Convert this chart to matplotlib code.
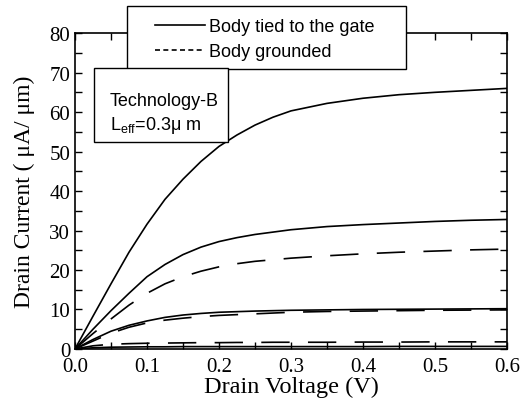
import matplotlib.pyplot as plt
from matplotlib.lines import Line2D
from matplotlib.patches import Rectangle
from matplotlib.ticker import MultipleLocator

# drain voltage samples (V)
vd = [0.0, 0.025, 0.05, 0.075, 0.1, 0.125, 0.15, 0.175, 0.2, 0.225, 0.25,
      0.275, 0.3, 0.35, 0.4, 0.45, 0.5, 0.55, 0.6]

# body tied to the gate (solid)
tied_1 = [0.0, 8.3, 16.5, 24.5, 31.6, 37.9, 43.0, 47.5, 51.3, 54.2, 56.7,
          58.7, 60.3, 62.2, 63.5, 64.4, 65.0, 65.5, 66.0]
tied_2 = [0.0, 5.0, 9.7, 14.1, 18.3, 21.4, 23.9, 25.8, 27.2, 28.2, 29.0,
          29.6, 30.2, 31.0, 31.5, 31.9, 32.3, 32.6, 32.8]
tied_3 = [0.0, 2.4, 4.5, 6.0, 7.1, 8.0, 8.6, 9.0, 9.3, 9.45, 9.6,
          9.7, 9.8, 9.9, 10.0, 10.05, 10.1, 10.15, 10.2]
tied_4 = [0.0, 0.3, 0.45, 0.5, 0.55, 0.55, 0.6, 0.6, 0.6, 0.6, 0.6,
          0.6, 0.6, 0.6, 0.6, 0.65, 0.65, 0.65, 0.65]

# body grounded (dashed)
gnd_1 = [0.0, 3.9, 7.6, 11.1, 14.1, 16.5, 18.3, 19.7, 20.8, 21.6, 22.2,
         22.6, 23.0, 23.6, 24.1, 24.5, 24.8, 25.1, 25.3]
gnd_2 = [0.0, 2.0, 4.0, 5.5, 6.6, 7.3, 7.8, 8.2, 8.5, 8.7, 8.9,
         9.1, 9.3, 9.5, 9.6, 9.7, 9.8, 9.85, 9.9]
gnd_3 = [0.0, 0.8, 1.2, 1.35, 1.45, 1.5, 1.55, 1.6, 1.6, 1.65, 1.65,
         1.7, 1.7, 1.7, 1.75, 1.75, 1.8, 1.8, 1.8]

fig = plt.figure(figsize=(5.27, 4.06), dpi=100)
ax = fig.add_axes([0.1423, 0.138, 0.8197, 0.778])

for y in [tied_1, tied_2, tied_3, tied_4]:
    ax.plot(vd, y, color='black', lw=1.2)
for y in [gnd_1, gnd_2, gnd_3]:
    ax.plot(vd, y, color='black', lw=1.2, linestyle=(0, (17, 11)))

ax.set_xlim(0, 0.6)
ax.set_ylim(0, 80)
ax.xaxis.set_major_locator(MultipleLocator(0.1))
ax.xaxis.set_minor_locator(MultipleLocator(0.05))
ax.yaxis.set_major_locator(MultipleLocator(10))
ax.yaxis.set_minor_locator(MultipleLocator(5))
ax.tick_params(which='both', direction='in', top=True, right=True,
               length=5, width=1, labelsize=15)
ax.tick_params(axis='x', pad=6)
for lab in ax.get_xticklabels() + ax.get_yticklabels():
    lab.set_family('Liberation Serif')
for s in ax.spines.values():
    s.set_linewidth(1.2)

# the "0" on the y axis sits a little above the axis, as in the original
ax.yaxis.get_major_ticks()[0].label1.set_verticalalignment('baseline')

ax.set_xlabel('Drain Voltage (V)', fontsize=17.5, family='Liberation Serif', labelpad=0)
ax.set_ylabel('Drain Current ( μA/ μm)', fontsize=17, family='Liberation Serif', labelpad=10)

# legend box above the axes
fig.patches.append(Rectangle((127 / 527, 1 - 70 / 406), 279 / 527, 63 / 406,
                             transform=fig.transFigure, facecolor='white',
                             edgecolor='black', lw=1.0, zorder=5))
handles = [Line2D([], [], color='black', lw=1.2),
           Line2D([], [], color='black', lw=1.2, linestyle=(0, (3, 2)))]
leg = fig.legend(handles, ['Body tied to the gate', 'Body grounded'],
                 loc='upper left', bbox_to_anchor=(155 / 527, 1 - 19 / 406),
                 prop={'family': 'Liberation Sans', 'size': 13},
                 frameon=False, handlelength=2.77, borderpad=0,
                 labelspacing=0.45, handletextpad=0.22, borderaxespad=0)
leg.set_zorder(6)

# technology text box
fig.patches.append(Rectangle((94 / 527, 1 - 143 / 406), 134 / 527, 74 / 406,
                             transform=fig.transFigure, facecolor='white',
                             edgecolor='black', lw=1.0, zorder=5))
fig.text(110 / 527, 1 - 101 / 406, 'Technology-B', fontsize=13, va='center',
         family='Liberation Sans', zorder=6)
fig.text(110 / 527, 1 - 125 / 406, 'L$_{\\mathregular{eff}}$=0.3μ m', fontsize=13,
         va='center', family='Liberation Sans', zorder=6)

plt.savefig('out.png', dpi=100)
